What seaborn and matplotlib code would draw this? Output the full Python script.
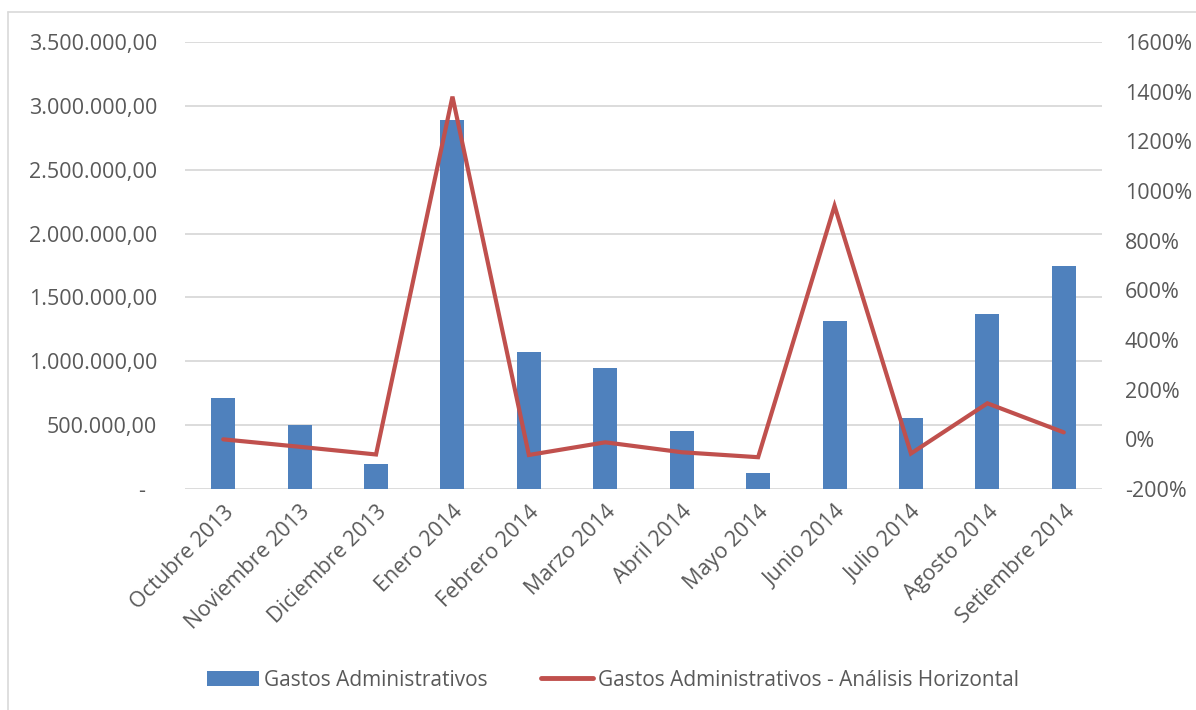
import matplotlib
matplotlib.use("Agg")
import matplotlib.pyplot as plt
from matplotlib.lines import Line2D
from matplotlib.patches import Patch
from matplotlib.ticker import FuncFormatter, MultipleLocator
import numpy as np
import pandas as pd
import seaborn as sns

meses = ["Octubre 2013", "Noviembre 2013", "Diciembre 2013", "Enero 2014",
         "Febrero 2014", "Marzo 2014", "Abril 2014", "Mayo 2014",
         "Junio 2014", "Julio 2014", "Agosto 2014", "Setiembre 2014"]
gastos = [710000, 500000, 195000, 2890000, 1072000, 947000,
          452000, 126000, 1315000, 558000, 1370000, 1750000]
analisis_pct = [0, -30, -61, 1380, -63, -12, -52, -72, 940, -57, 145, 28]

serie_barras = "Gastos Administrativos"
serie_linea = "Gastos Administrativos - Análisis Horizontal"

sns.set_theme(style="white")
plt.rcParams["font.family"] = ["Open Sans", "DejaVu Sans"]

TXT = "#595959"
GRID = "#d9d9d9"
BLUE = "#4f81bd"
RED = "#c0504d"
FS = 15.5
FS_LEG = 15

df = pd.DataFrame({"mes": meses, "gastos": gastos,
                   "pct": analisis_pct, "pos": np.arange(len(meses))})

fig = plt.figure(figsize=(11.96, 7.10), dpi=100)
ax = fig.add_axes([185 / 1196, 1 - 489 / 710, (1102 - 185) / 1196, (489 - 42) / 710])

sns.barplot(data=df, x="mes", y="gastos", color=BLUE, saturation=1,
            width=0.314, linewidth=0, ax=ax, zorder=2)
ax.set_ylim(0, 3500000)
ax.yaxis.set_major_locator(MultipleLocator(500000))


def fmt_left(v, _):
    if abs(v) < 1:
        return "-  "
    s = f"{v:,.2f}"
    return s.replace(",", "X").replace(".", ",").replace("X", ".")


ax.yaxis.set_major_formatter(FuncFormatter(fmt_left))
ax.grid(axis="y", color=GRID, linewidth=1.3)
ax.set_axisbelow(True)
for sp in ax.spines.values():
    sp.set_visible(False)
ax.set_xlabel("")
ax.set_ylabel("")
ax.tick_params(axis="y", length=0, pad=20, labelsize=FS, labelcolor=TXT)
ax.tick_params(axis="x", length=0, pad=9, labelsize=FS, labelcolor=TXT)
for lbl in ax.get_xticklabels():
    lbl.set_rotation(45)
    lbl.set_ha("right")
    lbl.set_va("top")
    lbl.set_rotation_mode("anchor")

ax2 = ax.twinx()
sns.lineplot(data=df, x="pos", y="pct", color=RED, linewidth=3.0, ax=ax2,
             solid_capstyle="round", solid_joinstyle="miter", zorder=3)
ax2.set_ylim(-200, 1600)
ax2.yaxis.set_major_locator(MultipleLocator(200))
ax2.yaxis.set_major_formatter(FuncFormatter(lambda v, _: f"{v:.0f}%"))
ax2.set_xlim(-0.5, len(meses) - 0.5)
for sp in ax2.spines.values():
    sp.set_visible(False)
ax2.set_xlabel("")
ax2.set_ylabel("")
ax2.tick_params(axis="y", length=0, pad=16.5, labelsize=FS, labelcolor=TXT)

handles = [Patch(facecolor=BLUE, edgecolor="none"),
           Line2D([0], [0], color=RED, linewidth=3.5, solid_capstyle="round")]
fig.legend(handles, [serie_barras, serie_linea], loc="center",
           bbox_to_anchor=(613 / 1196, 1 - 680 / 710), ncol=2, frameon=False,
           fontsize=FS_LEG, labelcolor=TXT, handlelength=2.5, handleheight=0.7,
           handletextpad=0.2, columnspacing=2.6)

# chart area frame
fig.add_artist(Line2D([7.5 / 1196, 7.5 / 1196], [0, 1 - 12 / 710],
                      transform=fig.transFigure, color=GRID, linewidth=1.2))
fig.add_artist(Line2D([7.5 / 1196, 1.0], [1 - 12 / 710, 1 - 12 / 710],
                      transform=fig.transFigure, color=GRID, linewidth=1.2))

fig.savefig("out.png", dpi=100, facecolor="white")
